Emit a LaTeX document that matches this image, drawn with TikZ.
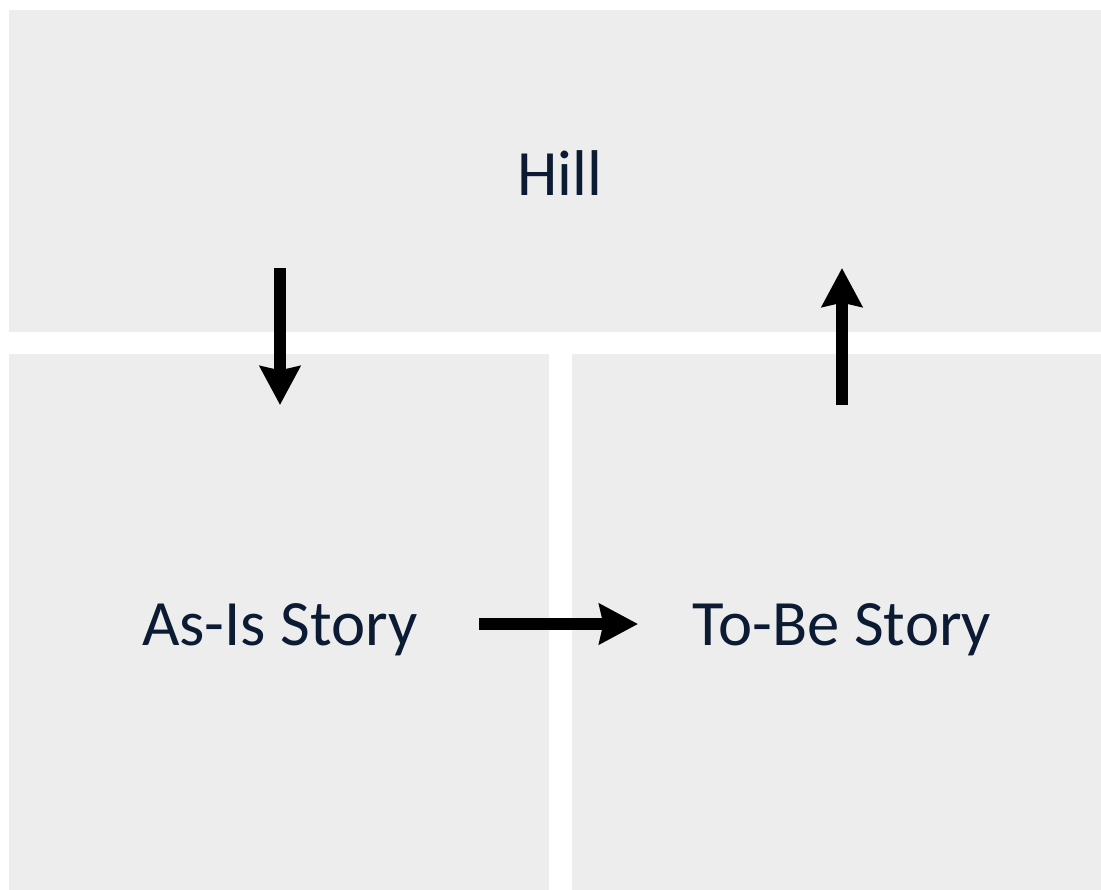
\documentclass[tikz,border=0pt]{standalone}
\usepackage{fontspec}
\setmainfont{Carlito}
\usetikzlibrary{arrows.meta}
\definecolor{panelgray}{HTML}{EDEDED}
\definecolor{labelnavy}{HTML}{0C1B34}
\tikzset{
  panel/.style={fill=panelgray, draw=none},
  panellabel/.style={font=\fontsize{48.5}{58}\selectfont, text=labelnavy},
  flowarrow/.style={line width=9pt, -{Stealth[length=29pt,width=30pt,inset=3pt]}}
}

\begin{document}
\begin{tikzpicture}[x=0.75pt,y=-0.75pt]
\useasboundingbox (0,0) rectangle (1101,890);
\fill[white] (0,0) rectangle (1101,890);
\fill[panel] (9,10) rectangle (1101,332);
\fill[panel] (9,354) rectangle (549,890);
\fill[panel] (572,354) rectangle (1101,890);
\node[panellabel] (hill) at (560,173) {Hill};
\node[panellabel] (asis) at (280,630) {As-Is Story};
\node[panellabel] (tobe) at (842,630) {To-Be Story};
\coordinate (downstart) at (280,268);
\coordinate (downend) at (280,405);
\coordinate (upstart) at (842,405);
\coordinate (upend) at (842,268);
\coordinate (rightstart) at (479,624);
\coordinate (rightend) at (638,624);
\draw[flowarrow] (downstart) -- (downend);
\draw[flowarrow] (upstart) -- (upend);
\draw[flowarrow] (rightstart) -- (rightend);
\end{tikzpicture}
\end{document}
